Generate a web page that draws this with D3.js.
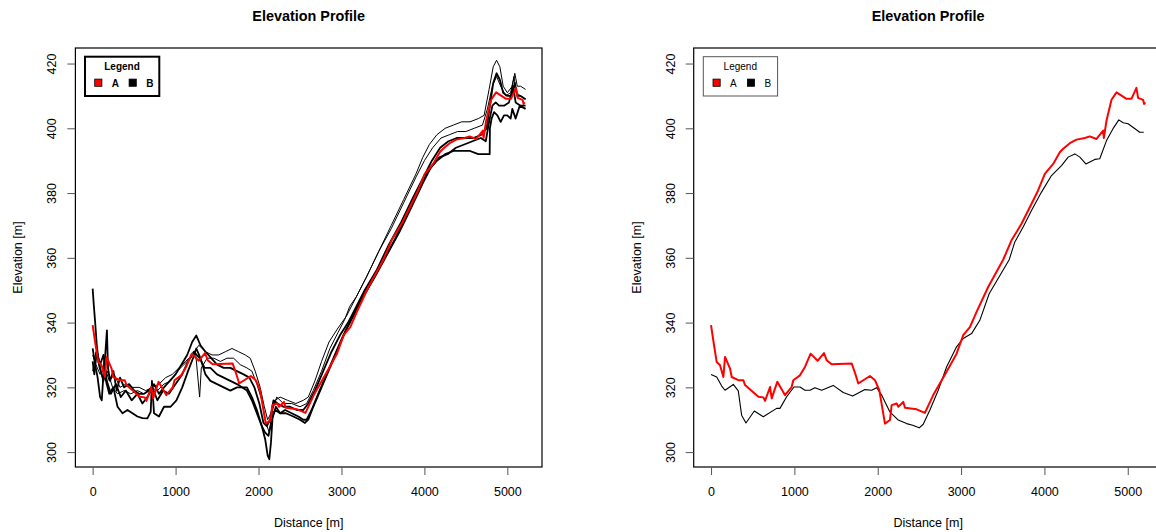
<!DOCTYPE html>
<html>
<head>
<meta charset="utf-8">
<script src="https://cdn.jsdelivr.net/npm/d3@7/dist/d3.min.js"></script>
<style>
  html, body { margin: 0; padding: 0; background: #fff; }
  svg { display: block; font-family: "Liberation Sans", Arial, Helvetica, sans-serif; }
</style>
</head>
<body>
<svg id="chart" width="1156" height="532"></svg>
<script>
// Elevation profiles along the track: distance [m] vs. elevation [m]

const xTicks = [0, 1000, 2000, 3000, 4000, 5000];
const yTicks = [300, 320, 340, 360, 380, 400, 420];
const legendLabels = ["A", "B"];
const legendColors = ["#ff0000", "#000000"];

// Profile A (red), used in both panels
const profileA = [
  [0,339.2],[30,334],[68,327.8],[108,326.8],[148,323.2],[168,329.4],[228,325.8],[248,323.2],
  [328,322.2],[388,322.2],[408,320.7],[568,317.1],[628,316.9],[648,315.8],[708,320.1],[728,316.6],
  [795,321.7],[887,317.6],[967,320.1],[987,322.2],[1067,323.7],[1127,326.3],[1195,330.4],[1279,328.2],
  [1355,330.6],[1387,328.4],[1447,327.1],[1687,327.4],[1727,324.5],[1767,321.2],[1827,322.2],[1907,323.5],
  [1967,322.2],[2019,319.1],[2087,308.8],[2147,309.9],[2167,314.5],[2227,315.0],[2247,314.0],[2307,315.5],
  [2327,313.7],[2467,313.2],[2566,312.1],[2666,317.6],[2826,324.8],[2946,330.4],[3026,336.1],[3106,338.6],
  [3186,343.3],[3325,351.0],[3505,359.4],[3605,365.4],[3725,370.5],[3825,375.6],[3924,380.8],[4005,385.9],
  [4105,389.0],[4185,392.6],[4225,393.7],[4305,395.4],[4385,396.5],[4485,397.0],[4545,397.5],[4625,396.7],
  [4705,399.3],[4713,397.0],[4745,402.4],[4805,408.8],[4865,411.1],[4985,409.1],[5044,409.1],[5104,412.5],
  [5124,409.4],[5184,408.8],[5196,407.5],[5210,408.0]
];

// Individual B profiles (black), left panel
const profileB1 = [
  [0,330],[40,327],[90,324],[150,326],[200,322],[260,324],[330,320],[400,321],[480,320],[560,320],
  [640,319],[720,320],[800,321],[880,323],[960,324],[1040,326],[1120,328],[1200,330],[1280,333],[1360,331],
  [1440,330],[1520,330],[1600,331],[1680,332],[1760,331],[1840,330],[1900,329],[1960,325],[2020,320],[2070,314],
  [2110,310],[2150,312],[2200,316],[2260,317],[2350,316],[2450,315],[2540,316],[2600,317],[2680,322],[2760,328],
  [2850,334],[2950,338],[3060,342],[3180,348],[3300,354],[3450,362],[3600,370],[3750,378],[3900,386],[3980,391],
  [4060,395],[4150,398],[4250,400],[4350,401],[4450,402],[4550,402],[4650,403],[4720,404],[4780,412],[4830,419],
  [4870,421],[4910,419],[4950,413],[5000,411],[5060,413],[5090,417],[5120,413],[5160,413],[5220,412]
];
const profileB2 = [
  [0,325],[40,331],[80,326],[130,322],[180,325],[240,320],[300,318],[380,319],[460,318],[540,319],
  [620,318],[700,320],[780,319],[860,321],[940,322],[1020,325],[1100,327],[1180,329],[1240,331],[1290,317],
  [1310,326],[1380,329],[1460,329],[1540,328],[1620,329],[1700,329],[1780,327],[1860,326],[1920,325],[1980,321],
  [2040,316],[2090,309],[2130,306],[2170,313],[2220,317],[2300,315],[2400,315],[2500,314],[2580,315],[2660,319],
  [2760,325],[2860,332],[2960,337],[3040,341],[3100,345],[3180,348],[3300,354],[3450,362],[3600,369],[3750,377],
  [3900,385],[4000,390],[4100,394],[4200,397],[4300,398],[4400,399],[4500,399],[4600,400],[4700,401],[4760,406],
  [4820,413],[4870,416],[4920,413],[4980,410],[5040,411],[5080,416],[5110,411],[5160,410],[5220,409]
];
const profileB3 = [
  [0,328],[20,324],[50,331],[90,327],[130,330],[170,322],[220,318],[280,321],[340,317],[400,319],
  [470,316],[540,318],[600,315],[660,317],[720,320],[780,316],[850,319],[920,318],[1000,321],[1080,324],
  [1150,328],[1220,331],[1290,329],[1350,326],[1420,326],[1500,324],[1580,323],[1660,322],[1740,321],[1800,320],
  [1860,320],[1920,317],[1980,313],[2040,308],[2080,304],[2110,299],[2130,297.8],[2150,303],[2170,311],[2210,314],
  [2260,312],[2320,313],[2400,312],[2480,311],[2540,310],[2580,310],[2640,313],[2720,318],[2820,324],[2920,330],
  [3020,336],[3120,341],[3220,346],[3350,352],[3500,359],[3650,366],[3800,374],[3950,382],[4050,387],[4150,390],
  [4250,392],[4350,393],[4450,393],[4550,393],[4650,392],[4750,392],[4787,392],[4790,400],[4810,403],[4840,405],
  [4880,404],[4920,402],[4960,404],[5000,404],[5040,403],[5060,406],[5100,403],[5150,407],[5220,406]
];
const profileB4 = [
  [0,332],[30,327],[60,323],[90,317],[110,316],[140,328],[160,322],[200,318],[250,320],[300,314],
  [360,312],[420,313],[480,312],[540,311],[600,310.5],[660,310.4],[700,312.4],[715,322],[740,312],[800,311],
  [860,314],[940,314],[1010,316],[1080,320],[1150,325],[1210,329],[1250,332],[1300,329],[1360,324],[1420,322],
  [1500,321],[1580,320],[1660,319],[1740,320],[1800,320],[1860,319],[1920,316],[1980,312],[2040,308],[2080,306],
  [2120,305],[2160,310],[2200,313],[2260,312],[2330,312],[2420,311],[2500,310],[2560,309],[2600,310],[2660,314],
  [2760,320],[2860,326],[2960,332],[3060,338],[3160,343],[3260,348],[3400,354],[3550,361],[3700,368],[3850,376],
  [3980,383],[4080,388],[4180,391],[4280,392],[4380,394],[4480,395],[4580,396],[4680,397],[4740,396],[4780,402],
  [4820,407],[4860,408],[4900,407],[4960,407],[5020,408],[5070,413],[5100,408],[5160,407],[5220,407]
];
const profileB5 = [
  [0,350.5],[15,345],[31,339.8],[50,333],[71,328.4],[100,325],[130,322],[172,337.6],[185,326],[210,322],
  [250,325],[290,319],[330,323],[380,320],[440,321],[500,319],[560,318],[620,318],[680,319],[740,321],
  [800,318],[860,320],[930,322],[1000,324],[1070,327],[1140,330],[1200,334],[1250,336],[1300,333],[1360,331],
  [1430,329],[1500,327],[1580,326],[1660,326],[1740,325],[1820,324],[1890,323],[1950,320],[2010,315],[2060,309],
  [2100,308],[2140,310],[2180,316],[2230,315],[2300,314],[2380,314],[2460,313],[2540,313],[2600,315],[2680,319],
  [2780,325],[2880,331],[2980,336],[3080,340],[3180,345],[3280,350],[3420,356],[3570,364],[3720,371],[3870,379],
  [3990,385],[4090,390],[4190,394],[4290,396],[4390,397],[4490,397],[4590,397],[4690,398],[4750,400],[4790,407],
  [4830,414],[4870,417],[4910,415],[4950,411],[5000,410],[5050,410],[5090,414],[5120,410],[5160,410],[5220,409]
];

// Smoothed B profile (black), right panel
const profileBSmooth = [
  [0,324.0],[68,323.2],[128,320.4],[168,319.1],[267,320.9],[327,318.9],[367,311.4],[419,309.0],[519,312.7],
  [627,310.9],[787,313.5],[827,313.5],[907,317.1],[995,320.1],[1067,320.1],[1127,319.1],[1187,319.1],[1247,319.9],
  [1327,319.1],[1466,320.6],[1586,318.4],[1699,317.3],[1847,319.3],[1927,319.1],[1987,319.9],[2047,317.6],
  [2146,312.4],[2246,309.9],[2347,308.8],[2419,308.3],[2498,307.5],[2546,308.6],[2626,313.0],[2726,319.1],
  [2826,326.3],[2946,332.5],[3026,335.1],[3126,336.6],[3225,340.7],[3337,348.9],[3577,359.4],[3645,364.9],
  [3745,369.5],[3845,374.6],[3965,380.3],[4085,385.4],[4205,388.5],[4285,391.1],[4365,392.1],[4425,391.1],
  [4497,389.0],[4604,390.4],[4664,390.6],[4745,396.2],[4833,400.3],[4893,402.6],[4945,401.7],[5004,401.4],
  [5144,398.8],[5192,398.8]
];

const xDomain = [-208, 5418];
const yDomain = [295.4, 424.8];

const svg = d3.select("#chart");

function drawPanel(opts) {
  const { left, right, top, bottom, blacks, blackWidths, boldLegend, id } = opts;
  const x = d3.scaleLinear().domain(xDomain).range([left, right]);
  const y = d3.scaleLinear().domain(yDomain).range([bottom, top]);
  const g = svg.append("g");

  g.append("clipPath").attr("id", id).append("rect")
    .attr("x", left).attr("y", top).attr("width", right - left).attr("height", bottom - top);

  const line = d3.line().x(d => x(d[0])).y(d => y(d[1]));
  const plot = g.append("g").attr("clip-path", `url(#${id})`);

  blacks.forEach((s, i) => {
    plot.append("path").attr("d", line(s))
      .attr("fill", "none").attr("stroke", "#000")
      .attr("stroke-width", blackWidths[i]).attr("stroke-linejoin", "round");
  });
  plot.append("path").attr("d", line(profileA))
    .attr("fill", "none").attr("stroke", "#ff0000")
    .attr("stroke-width", 2).attr("stroke-linejoin", "round");

  // frame
  g.append("rect").attr("x", left).attr("y", top)
    .attr("width", right - left).attr("height", bottom - top)
    .attr("fill", "none").attr("stroke", "#000").attr("stroke-width", 1.2);

  // x axis
  const xAxis = d3.axisBottom(x).tickValues(xTicks).tickSize(8).tickPadding(12).tickFormat(d3.format("d"));
  const xa = g.append("g").attr("transform", `translate(0,${bottom})`).call(xAxis);
  xa.select(".domain").remove();
  xa.selectAll("text").attr("font-size", 12.5).attr("fill", "#000").attr("font-family", null);
  xa.selectAll("line").attr("stroke", "#555");

  // y axis
  const yAxis = d3.axisLeft(y).tickValues(yTicks).tickSize(8).tickFormat(d3.format("d"));
  const ya = g.append("g").attr("transform", `translate(${left},0)`).call(yAxis);
  ya.select(".domain").remove();
  ya.selectAll("line").attr("stroke", "#555");
  ya.selectAll("text").attr("font-size", 12.5).attr("fill", "#000").attr("font-family", null)
    .attr("text-anchor", "middle").attr("x", 0).attr("dy", null)
    .attr("transform", "translate(-19,0) rotate(-90)");

  const cx = (left + right) / 2;
  g.append("text").attr("x", cx).attr("y", 21).attr("text-anchor", "middle")
    .attr("font-size", 14.4).attr("font-weight", "bold").text("Elevation Profile");
  g.append("text").attr("x", cx).attr("y", 527).attr("text-anchor", "middle")
    .attr("font-size", 12.5).text("Distance [m]");
  g.append("text").attr("transform", `translate(${left - 53},${(top + bottom) / 2}) rotate(-90)`)
    .attr("text-anchor", "middle").attr("font-size", 12.5).text("Elevation [m]");

  // legend
  const lx = left + 9.6, ly = top + 8.7;
  const lg = g.append("g").attr("transform", `translate(${lx},${ly})`);
  lg.append("rect").attr("width", 74.3).attr("height", 39.3).attr("fill", "#fff")
    .attr("stroke", boldLegend ? "#000" : "#555").attr("stroke-width", boldLegend ? 2 : 1);
  lg.append("text").attr("x", 37).attr("y", 13.3).attr("text-anchor", "middle")
    .attr("font-size", 10).attr("font-weight", boldLegend ? "bold" : "normal").text("Legend");
  const keyX = [13.3, 47.7];
  legendLabels.forEach((lab, i) => {
    lg.append("rect").attr("x", keyX[i] - 3.6).attr("y", 22.4).attr("width", 7.2).attr("height", 7.2)
      .attr("fill", legendColors[i]).attr("stroke", "#000").attr("stroke-width", 0.8);
    lg.append("text").attr("x", keyX[i] + 13.5).attr("y", 29.9).attr("text-anchor", "start")
      .attr("font-size", 10).attr("font-weight", boldLegend ? "bold" : "normal").text(lab);
  });
}

drawPanel({
  id: "clipL", left: 75.4, right: 542, top: 48, bottom: 467,
  blacks: [profileB1, profileB2, profileB3, profileB4, profileB5],
  blackWidths: [1, 1, 1.8, 1.8, 1.8], boldLegend: true
});
drawPanel({
  id: "clipR", left: 693.7, right: 1162.6, top: 48, bottom: 467,
  blacks: [profileBSmooth], blackWidths: [1.1], boldLegend: false
});
</script>
</body>
</html>
